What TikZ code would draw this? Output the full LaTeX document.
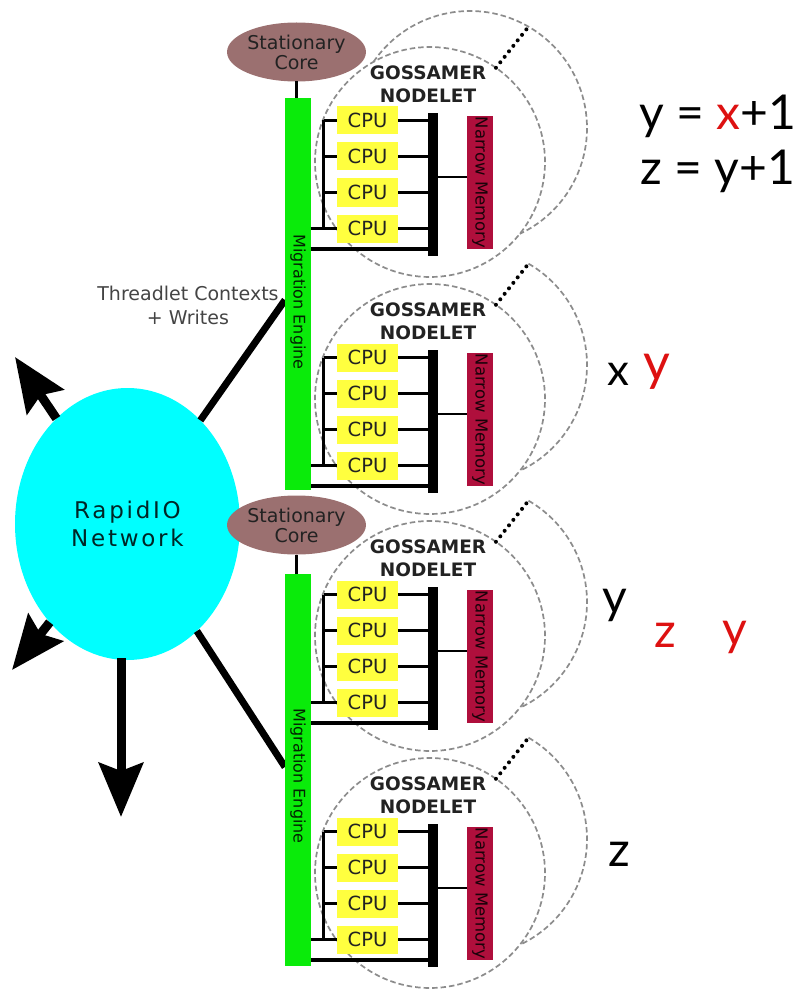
\documentclass[tikz,border=0pt]{standalone}
\usepackage{fontspec}
\setmainfont{DejaVu Sans}
\newfontfamily\handfont{Lato}
\usetikzlibrary{shapes.geometric,arrows.meta,calc}
\definecolor{cpuy}{HTML}{FFFF3F}
\definecolor{meg}{HTML}{0AEB0A}
\definecolor{mem}{HTML}{AF0F3C}
\definecolor{corec}{HTML}{9B7070}
\definecolor{netc}{HTML}{00FFFF}
\definecolor{dgray}{HTML}{8C8C8C}
\definecolor{txt}{HTML}{222222}
\definecolor{tgray}{HTML}{444444}
\definecolor{redone}{HTML}{DD1111}
\begin{document}
\begin{tikzpicture}[x=1pt,y=-1pt,
  every node/.style={inner sep=0pt, outer sep=0pt},
  cpubox/.style={fill=cpuy, minimum width=61pt, minimum height=28pt, font=\fontsize{19.5}{19.5}\selectfont, text=txt},
  membox/.style={fill=mem, minimum width=26pt, minimum height=133pt},
  memlabel/.style={rotate=-90, font=\fontsize{16.5}{16.5}\selectfont, text=black!85!mem},
  barbox/.style={fill=meg, minimum width=26pt, minimum height=392pt},
  barlabel/.style={rotate=-90, font=\fontsize{16}{16}\selectfont, text=black!85!meg},
  corenode/.style={ellipse, fill=corec, minimum width=107pt, minimum height=59pt, align=center, font=\fontsize{19}{20}\selectfont, text=txt},
  titlenode/.style={align=center, font=\bfseries\fontsize{18.5}{23}\selectfont, text=txt},
  wire/.style={line width=3.5pt},
  thinwire/.style={line width=2.5pt},
  dcirc/.style={draw=dgray, line width=1.7pt, dash pattern=on 5.5pt off 3pt},
  dotline/.style={line width=4pt, dash pattern=on 0pt off 7pt, line cap=round},
  bigline/.style={line width=7pt},
  bigarrow/.style={line width=9pt, -{Stealth[length=54pt,width=44pt,inset=8pt]}},
  hand/.style={font=\handfont\fontsize{48}{48}\selectfont, text=black},
]
\useasboundingbox (0,0) rectangle (797,995);

% ---------- dashed nodelet circles ----------
\foreach \o/\n/\sa in {0/1/-145.6, 237/2/-60, 474/3/-60, 711/4/-60} {
  \coordinate (bc\n) at (470,{128+\o});
  \draw[dcirc] ($(bc\n)+(\sa:117)$) arc[start angle=\sa, end angle=64.8, radius=117];
  \node[circle, dcirc, minimum size=230pt] (fc\n) at (430,{162+\o}) {};
  \draw[dotline] (fc\n.55) -- ($(bc\n)+(-60:117)$);
}

% ---------- network and connectors ----------
\node[ellipse, fill=netc, minimum width=225pt, minimum height=272pt, align=center,
      font=\addfontfeature{LetterSpace=12}\fontsize{23}{28}\selectfont, text=black!85!netc] (net) at (127.5,524) {RapidIO\\Network};
\coordinate (c1) at (285,300);
\coordinate (c2) at (285,767);
\coordinate (t1) at (15,357);
\coordinate (t2) at (12,670);
\coordinate (t3) at (121,817);
\draw[bigline] (net) -- (c1);
\draw[bigline] (net) -- (c2);
\draw[bigarrow] (net) -- (t1);
\draw[bigarrow] (net) -- (t2);
\draw[bigarrow] ([yshift=2pt]net.south -| t3) -- (t3);
\node[align=center, font=\fontsize{19}{24}\selectfont, text=tgray] (thr) at (188,305) {Threadlet Contexts\\+ Writes};

% ---------- migration engines and stationary cores ----------
\node[barbox] (bar1) at (298,294) {};
\node[barbox] (bar2) at (298,769.5) {};
\node[barlabel] (me1) at (298,302) {Migration Engine};
\node[barlabel] (me2) at (298,776) {Migration Engine};
\node[corenode] (core1) at (296.5,52) {Stationary\\Core};
\node[corenode] (core2) at (296.5,525) {Stationary\\Core};
\draw[line width=3pt] (core1.south) -- (core1.south |- bar1.north);
\draw[line width=3pt] (core2.south) -- (core2.south |- bar2.north);

% ---------- nodelets ----------
\foreach \o/\n/\b in {0/1/bar1, 237/2/bar1, 474/3/bar2, 711/4/bar2} {
  \foreach \k in {1,...,4} {
    \node[cpubox] (cpu\n-\k) at (367.5,{120.5+36*(\k-1)+\o}) {CPU};
  }
  \node[fill=black, minimum width=10pt, minimum height=143pt] (bus\n) at (432.5,{184.5+\o}) {};
  \node[membox] (mem\n) at (480,{182.5+\o}) {};
  \node[memlabel] (memt\n) at (mem\n) {Narrow Memory};
  \node[titlenode] (tt\n) at (428,{84.5+\o}) {GOSSAMER\\NODELET};
  \coordinate (ml\n) at (0,{177+\o});
  \coordinate (bl\n) at (0,{249+\o});
  \draw[thinwire] ([xshift=-13.5pt]cpu\n-1.west) -- ([xshift=-13.5pt]cpu\n-4.west);
  \foreach \k in {1,...,4} {
    \draw[wire] ([xshift=-13.5pt]cpu\n-\k.west) -- (cpu\n-\k.west);
    \draw[wire] (cpu\n-\k.east) -- (cpu\n-\k.east -| bus\n.west);
  }
  \draw[wire] (cpu\n-4.west -| \b.east) -- ([xshift=-13.5pt]cpu\n-4.west);
  \draw[line width=4pt] (bl\n -| \b.east) -- (bl\n -| bus\n);
  \draw[line width=2.5pt] (ml\n -| bus\n.east) -- (ml\n -| mem\n.west);
}

% ---------- variable annotations ----------
\node[hand, anchor=base] (eq1) at (718,130) {y = \textcolor{redone}{x}+1};
\node[hand, anchor=base] (eq2) at (718,185) {z = y+1};
\node[hand, anchor=base, font=\handfont\fontsize{44}{44}\selectfont] (xa) at (618,385) {x};
\node[hand, anchor=base, text=redone, font=\handfont\fontsize{52}{52}\selectfont] (ya) at (657,380) {y};
\node[hand, anchor=base] (yb) at (615,613) {y};
\node[hand, anchor=base, text=redone] (zb) at (665,647) {z};
\node[hand, anchor=base, text=redone] (yc) at (735,645) {y};
\node[hand, anchor=base] (zc) at (619,866) {z};
\end{tikzpicture}
\end{document}
